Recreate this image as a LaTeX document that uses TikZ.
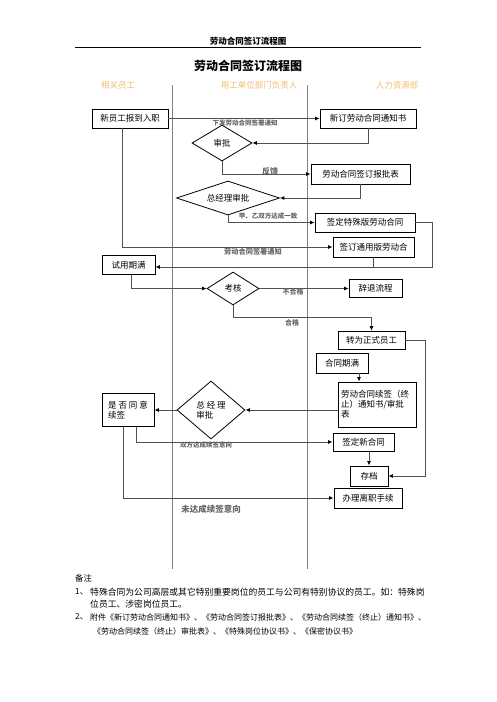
\documentclass[tikz,border=0pt]{standalone}
\usepackage{fontspec}
\setmainfont{Noto Sans CJK SC}
\usetikzlibrary{shapes.geometric,arrows.meta}
\definecolor{LaneGold}{HTML}{F0BC6E}
\definecolor{FlowGray}{HTML}{505050}
\definecolor{TagGray}{HTML}{666666}
\tikzset{
  box/.style={draw,line width=0.8pt,inner sep=2pt,font=\fontsize{8.5}{10}\selectfont},
  decide/.style={draw,shape=diamond,line width=0.8pt,inner sep=0pt,font=\fontsize{8.5}{10}\selectfont},
  flow/.style={draw=FlowGray,line width=1pt,-{Latex[length=4.5pt,width=4pt,color=black]}},
  link/.style={draw=FlowGray,line width=1pt},
  tag/.style={text=TagGray,inner sep=0pt,font=\bfseries\fontsize{6.5}{7}\selectfont},
  note/.style={anchor=west,inner sep=0pt,font=\fontsize{8.3}{10}\selectfont},
}

\begin{document}
\begin{tikzpicture}[x=1pt,y=-1pt]
    \useasboundingbox (0,0) rectangle (496,702);
    % page header and title
    \node[font=\bfseries\fontsize{8.5}{10}\selectfont] (header) at (248,41) {劳动合同签订流程图};
    \draw[line width=0.8pt] (75,47) -- (421,47);
    \node[font=\bfseries\fontsize{12}{14}\selectfont] (title) at (248,66) {劳动合同签订流程图};
    % lanes
    \foreach \lx in {172,307} {
     \draw[line width=0.6pt,gray] (\lx,85) -- (\lx,569);
    }
    \foreach \hx/\lane in {118/相关员工,259/用工单位部门负责人,397/人力资源部} {
     \node[text=LaneGold,font=\fontsize{8.5}{10}\selectfont] at (\hx,85) {\lane};
    }
    % boxes
    \foreach \nm/\cx/\cy/\w/\h/\txt in {
      ruzhi/130/118.5/76/19/新员工报到入职,
      tongzhi/368/118.5/96/19/新订劳动合同通知书,
      baopi/360.5/174/99/20/劳动合同签订报批表,
      teshu/365/222.5/100/19/签定特殊版劳动合同,
      tongyong/373.5/247/81/20/签订通用版劳动合,
      shiyong/128.5/265/53/19/试用期满,
      citui/375.5/288.5/53/18/辞退流程,
      zhuanzheng/371.5/340/67/18/转为正式员工,
      qiman/342/363/52/20/合同期满,
      xinhetong/363.5/442/61/18/签定新合同,
      cundang/369/476/38/20/存档,
      lizhi/368/498/68/20/办理离职手续} {
     \node[box,minimum width=\w,minimum height=\h] (\nm) at (\cx,\cy) {\txt};
    }
    \node[box,minimum width=78,minimum height=45,text width=72,align=left] (xuqian) at (377,404.5)
      {劳动合同续签（终\\止）通知书/审批\\表};
    \node[box,minimum width=52,minimum height=33,align=left] (tongyi) at (128,410) {是 否 同 意\\续签};
    % decisions
    \node[decide,minimum width=60,minimum height=36,aspect=1.67] (shenpi) at (222,143) {审批};
    \node[decide,minimum width=103,minimum height=34,aspect=3] (zjl) at (228,198) {总经理审批};
    \node[decide,minimum width=52,minimum height=33,aspect=1.6] (kaohe) at (233,288.5) {考核};
    \node[decide,minimum width=68,minimum height=58,aspect=1.2,align=left] (zjlb) at (211,410) {总 经 理\\审批};
    % helper points
    \coordinate (bend1) at (432,267);
    \coordinate (hege) at (233,317);
    \coordinate (bend2) at (425,476);
    % connectors
    \draw[flow] (ruzhi.east) -- (tongzhi.west);
    \draw[flow] (tongzhi.south) |- (shenpi.east);
    \draw[flow] (shenpi.south) |- (baopi.west);
    \draw[flow] (baopi.south) |- (zjl.east);
    \draw[flow] (zjl.south) |- (teshu.west);
    \draw[flow] ([xshift=-8pt]ruzhi.south) |- (tongyong.west);
    \draw[flow] (teshu.east) -| (bend1) -- (shiyong.east |- bend1);
    \draw[link] (tongyong.south) -- (tongyong.south |- bend1);
    \draw[flow] ([xshift=3pt]shiyong.south) |- (kaohe.west);
    \draw[flow] (kaohe.east) -- (citui.west);
    \draw[flow] (kaohe.south) -- (hege) -| (zhuanzheng.north);
    \draw[flow] (zhuanzheng.east) -| (bend2) -- (cundang.east);
    \draw[flow] ([xshift=17pt]qiman.south) -- ([xshift=17pt]qiman.south |- xuqian.north);
    \draw[flow] (xuqian.west |- zjlb.east) -- (zjlb.east);
    \draw[flow] (zjlb.west) -- (tongyi.east);
    \draw[flow] ([xshift=8pt]tongyi.south) |- (xinhetong.west);
    \draw[flow] (cundang.north |- xinhetong.south) -- (cundang.north);
    \draw[flow] ([xshift=-5pt]tongyi.south) |- (lizhi.west);
    % connector labels
    \node[tag] (t1) at (245,123) {下发劳动合同签署通知};
    \node[tag,font=\bfseries\fontsize{8}{9}\selectfont] (t2) at (270,171) {反馈};
    \node[tag] (t3) at (268,216.5) {甲、乙双方达成一致};
    \node[tag,font=\bfseries\fontsize{7.2}{8}\selectfont] (t4) at (253,251.5) {劳动合同签署通知};
    \node[tag,font=\bfseries\fontsize{7}{8}\selectfont] (t5) at (293,291.5) {不合格};
    \node[tag,font=\bfseries\fontsize{7}{8}\selectfont] (t6) at (292,323) {合格};
    \node[tag] (t7) at (206,445.5) {双方达成续签意向};
    \node[tag,font=\bfseries\fontsize{8.5}{9}\selectfont] (t8) at (211,509) {未达成续签意向};
    % remarks
    \node[note] (n0) at (75,578) {备注};
    \node[note] (n1) at (75,592) {1、};
    \node[note,font=\fontsize{8.8}{10}\selectfont] (n1a) at (90,592) {特殊合同为公司高层或其它特别重要岗位的员工与公司有特别协议的员工。如：特殊岗};
    \node[note,font=\fontsize{8.8}{10}\selectfont] (n1b) at (90,604) {位员工、涉密岗位员工。};
    \node[note] (n2) at (75,617) {2、};
    \node[note,font=\fontsize{8}{10}\selectfont] (n2a) at (90,617) {附件《新订劳动合同通知书》、《劳动合同签订报批表》、《劳动合同续签（终止）通知书》、};
    \node[note,font=\fontsize{8}{10}\selectfont] (n2b) at (93,631) {《劳动合同续签（终止）审批表》、《特殊岗位协议书》、《保密协议书》};
\end{tikzpicture}
\end{document}
